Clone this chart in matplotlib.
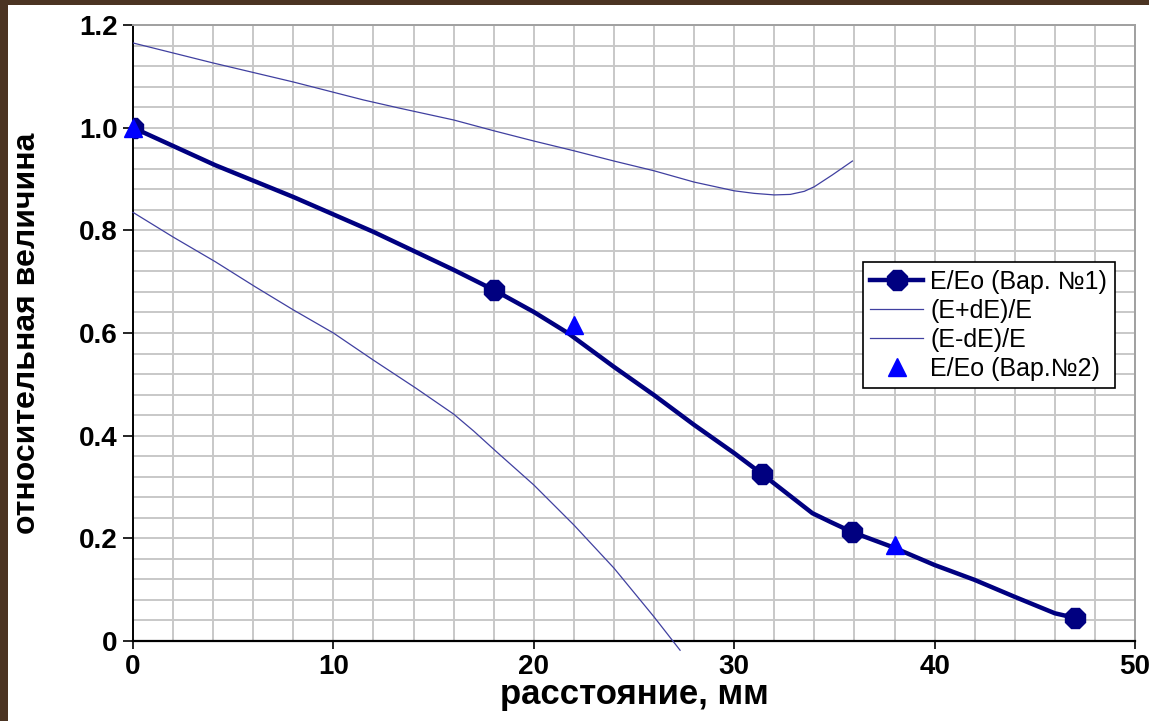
import matplotlib.pyplot as plt
from matplotlib.patches import Rectangle
from matplotlib.ticker import MultipleLocator

plt.rcParams['font.family'] = ['Liberation Sans', 'DejaVu Sans']

x_main = [0, 4.1, 8, 12, 16, 18, 20, 21.7, 24, 26, 28, 30, 31.4, 33.9, 34.8,
          35.9, 37.9, 40, 42, 44, 46, 47]
y_main = [1.0, 0.927, 0.865, 0.797, 0.723, 0.684, 0.641, 0.600, 0.534, 0.479,
          0.421, 0.366, 0.325, 0.249, 0.232, 0.212, 0.183, 0.148, 0.119, 0.086,
          0.054, 0.045]
main_marks = [0, 5, 12, 15, 21]

# (E+dE)/E
x_up = [0, 4, 8, 11.5, 13.3, 16, 18, 20, 22, 24, 26, 28, 30, 31, 32, 32.8,
        33.5, 34, 34.9, 35.9]
y_up = [1.165, 1.126, 1.089, 1.054, 1.038, 1.015, 0.994, 0.974, 0.955, 0.935,
        0.916, 0.894, 0.877, 0.872, 0.869, 0.870, 0.876, 0.885, 0.908, 0.935]

# (E-dE)/E
x_lo = [0, 2, 4.1, 6.1, 8, 10, 12, 14.1, 16, 17, 18.1, 20, 22, 24, 26, 27.3]
y_lo = [0.835, 0.787, 0.739, 0.690, 0.645, 0.600, 0.547, 0.493, 0.442, 0.409,
        0.370, 0.304, 0.226, 0.142, 0.047, -0.018]

# E/Eo (Вар.№2)
x_v2 = [0, 22, 38]
y_v2 = [1.0, 0.615, 0.187]

y_ticks = [0, 0.2, 0.4, 0.6, 0.8, 1.0, 1.2]
y_tick_labels = ['0', '0.2', '0.4', '0.6', '0.8', '1.0', '1.2']
x_ticks = [0, 10, 20, 30, 40, 50]

fig = plt.figure(figsize=(11.49, 7.21), dpi=100, facecolor='#4b3422')
fig.patches.append(Rectangle((8 / 1149, 0), 1 - 8 / 1149, 1 - 5 / 721,
                             transform=fig.transFigure, facecolor='white',
                             edgecolor='none', zorder=-1))
ax = fig.add_axes([133 / 1149, 1 - 641 / 721, 1002 / 1149, 616 / 721])
ax.set_zorder(1)

ax.plot(x_main, y_main, color='#000080', lw=3.2, marker='8', ms=15,
        markevery=main_marks, label='E/Eo (Вар. №1)', zorder=4)
ax.plot(x_up, y_up, color='#4040a0', lw=0.9, label='(E+dE)/E', zorder=3)
ax.plot(x_lo, y_lo, color='#4040a0', lw=0.9, label='(E-dE)/E', zorder=3,
        clip_on=False)
ax.plot(x_v2, y_v2, ls='none', marker='^', ms=13, color='#0000ff',
        label='E/Eo (Вар.№2)', zorder=5, clip_on=False)

ax.set_xlim(0, 50)
ax.set_ylim(0, 1.2)
ax.set_xticks(x_ticks)
ax.set_yticks(y_ticks)
ax.set_yticklabels(y_tick_labels)
ax.xaxis.set_minor_locator(MultipleLocator(2))
ax.yaxis.set_minor_locator(MultipleLocator(0.04))
ax.grid(which='both', color='#c8c8c8', lw=1.4)
ax.set_axisbelow(True)
ax.tick_params(which='minor', length=0)
ax.tick_params(which='major', length=6, width=1.2, direction='out',
               labelsize=20, pad=3)
ax.tick_params(axis='y', length=7, pad=4)
for lab in ax.get_xticklabels() + ax.get_yticklabels():
    lab.set_fontweight('bold')

ax.spines['left'].set_color('black')
ax.spines['bottom'].set_color('black')
ax.spines['bottom'].set_linewidth(1.6)
ax.spines['left'].set_linewidth(1.4)
for s in ('top', 'right'):
    ax.spines[s].set_color('#a0a0a0')
    ax.spines[s].set_linewidth(1.4)

ax.set_xlabel('расстояние, мм', fontsize=25, fontweight='bold')
ax.xaxis.set_label_coords(0.5, -0.06)
ax.set_ylabel('относительная величина', fontsize=23, fontweight='bold')
ax.yaxis.set_label_coords(-0.091, 0.5)

leg = ax.legend(loc='upper left', bbox_to_anchor=(0.7285, 0.615),
                fontsize=18, frameon=True, fancybox=False, edgecolor='black',
                framealpha=1, handlelength=2.1, handletextpad=0.3,
                labelspacing=0.2, borderpad=0.3, borderaxespad=0)
leg.get_frame().set_linewidth(1.2)
leg.set_zorder(10)

fig.savefig('out.png', dpi=100, facecolor=fig.get_facecolor())
